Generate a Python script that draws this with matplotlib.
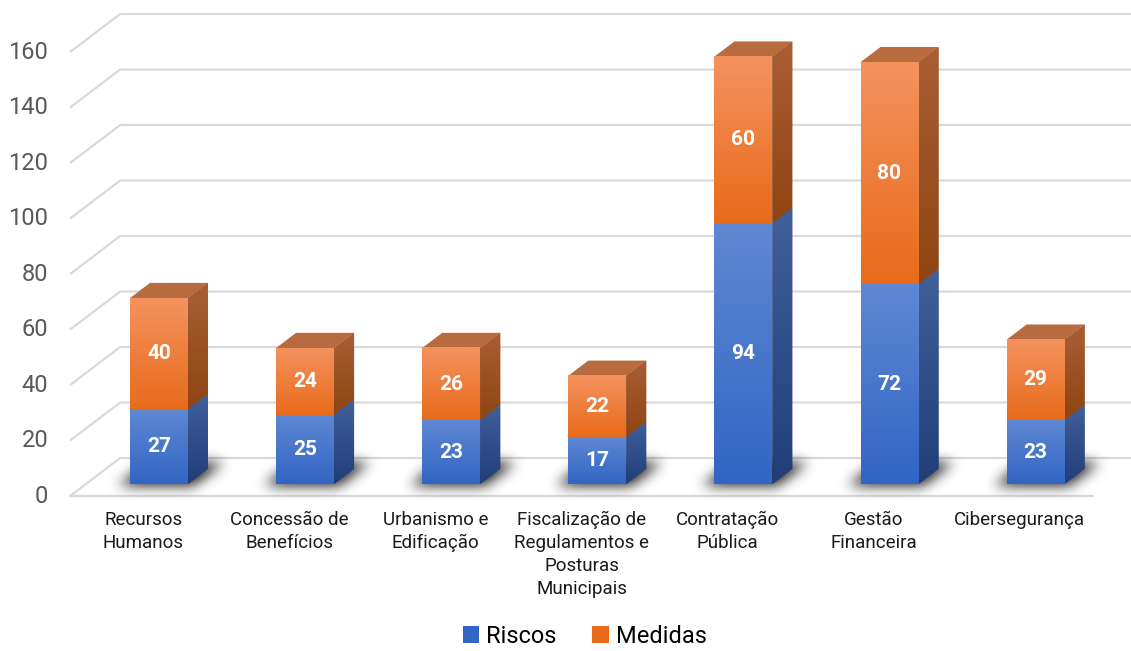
import numpy as np
import matplotlib.pyplot as plt
from matplotlib.patches import Polygon, Patch

plt.rcParams['font.family'] = ['Roboto', 'DejaVu Sans']

# data
categories = ['Recursos\nHumanos', 'Concessão de\nBenefícios', 'Urbanismo e\nEdificação',
              'Fiscalização de\nRegulamentos e\nPosturas\nMunicipais', 'Contratação\nPública',
              'Gestão\nFinanceira', 'Cibersegurança']
riscos = [27, 25, 23, 17, 94, 72, 23]
medidas = [40, 24, 26, 22, 60, 80, 29]
y_ticks = [0, 20, 40, 60, 80, 100, 120, 140, 160]
series_names = ['Riscos', 'Medidas']

# styles: (front top, front bottom, side top, side bottom, top face)
BLUE = ('#5f88d3', '#3265c4', '#40609a', '#213e79', '#4a6fb3')
ORANGE = ('#f4925e', '#e86b1b', '#aa5e36', '#8e4412', '#b96b40')
GRID = '#d9d9d9'

# layout (pixels -> data units)
W, H = 1131, 651
PX_X = 146.1      # px per category
PX_Y = 2.775      # px per value unit
X0_PX = 159       # front-face centre of first bar
BASE_PX = 484     # bar base on the bar plane
FLOOR_DX = 50 / PX_X
FLOOR_DY = 38 / PX_Y
D_BAR = 15.8 / 50
BAR_DEPTH = 0.4
HALF_W = 29 / PX_X


def proj(x, v, d):
    # point at depth d (0 = front wall, 1 = back wall) -> data coords on bar plane
    return x + (d - D_BAR) * FLOOR_DX, v + (d - D_BAR) * FLOOR_DY


def gradient(c_top, c_bot, n=64):
    a = np.array(plt.matplotlib.colors.to_rgb(c_bot))
    b = np.array(plt.matplotlib.colors.to_rgb(c_top))
    t = np.linspace(0, 1, n)[:, None]
    return (a + (b - a) * t)[:, None, :]


def blur(a, sigma):
    r = int(3 * sigma)
    k = np.exp(-np.arange(-r, r + 1) ** 2 / (2 * sigma ** 2))
    k /= k.sum()
    a = np.apply_along_axis(lambda row: np.convolve(row, k, mode='same'), 1, a)
    return np.apply_along_axis(lambda col: np.convolve(col, k, mode='same'), 0, a)


def floor_shadow(xl, xr):
    # blurred footprint of a bar on the floor, as RGBA image + extent
    ex = [xl - 0.35, xr + 0.45, -9.0, 14.0]
    nx = int((ex[1] - ex[0]) * PX_X)
    ny = int((ex[3] - ex[2]) * PX_Y)
    gx, gy = np.meshgrid(np.linspace(ex[0], ex[1], nx), np.linspace(ex[2], ex[3], ny))
    d = D_BAR + gy / FLOOR_DY
    xb = gx - (d - D_BAR) * FLOOR_DX
    core = ((xb > xl - 0.07) & (xb < xr + 0.05) & (d > 0.28) & (d < 0.9)).astype(float)
    alpha = np.clip(blur(core, 6.5) * 0.9, 0, 1)
    img = np.zeros((ny, nx, 4))
    img[..., 3] = alpha
    return img, ex


fig = plt.figure(figsize=(W / 100, H / 100), dpi=100)
ax = fig.add_axes([0, 0, 1, 1])
ax.axis('off')

# walls / gridlines
for v in y_ticks:
    pts = np.array([proj(-0.5, v, 0), proj(-0.5, v, 1), proj(7.5, v, 1)])
    ax.plot(pts[:, 0], pts[:, 1], color=GRID, lw=1.6, zorder=1, solid_capstyle='butt')
    ax.annotate(str(v), xy=proj(-0.5, v, 0), xytext=(-22, 0), textcoords='offset pixels',
                ha='right', va='center', fontsize=17, color='#595959')
front = np.array([proj(-0.5, 0, 0), proj(6.5, 0, 0)])
ax.plot(front[:, 0], front[:, 1], color=GRID, lw=1.6, zorder=1)

# bars
for i, (r, m) in enumerate(zip(riscos, medidas)):
    xl, xr = i - HALF_W, i + HALF_W

    img, ex = floor_shadow(xl, xr)
    ax.imshow(img, extent=ex, origin='lower', aspect='auto', interpolation='bilinear', zorder=2)

    segs = [(0, r, BLUE), (r, r + m, ORANGE)]
    for j, (v0, v1, col) in enumerate(segs):
        # front face
        ax.imshow(gradient(col[0], col[1]), extent=[xl, xr, v0, v1], origin='lower',
                  aspect='auto', interpolation='bilinear', zorder=4)
        # side face
        side = [proj(xr, v0, D_BAR), proj(xr, v1, D_BAR),
                proj(xr, v1, D_BAR + BAR_DEPTH), proj(xr, v0, D_BAR + BAR_DEPTH)]
        sp = Polygon(side, closed=True, facecolor=col[3], edgecolor='none', zorder=3)
        ax.add_patch(sp)
        sx = [p[0] for p in side]
        sy = [p[1] for p in side]
        im = ax.imshow(gradient(col[2], col[3]), extent=[min(sx), max(sx), min(sy), max(sy)],
                       origin='lower', aspect='auto', interpolation='bilinear', zorder=3.5)
        im.set_clip_path(sp)
        # top face
        if j == len(segs) - 1:
            top = [proj(xl, v1, D_BAR), proj(xr, v1, D_BAR),
                   proj(xr, v1, D_BAR + BAR_DEPTH), proj(xl, v1, D_BAR + BAR_DEPTH)]
            ax.add_patch(Polygon(top, closed=True, facecolor=col[4], edgecolor='none', zorder=3.6))
        ax.text(i, (v0 + v1) / 2, str(v1 - v0), ha='center', va='center', color='white',
                fontsize=15, fontweight='bold', zorder=6)

    ax.annotate(categories[i], xy=proj(i, 0, 0), xytext=(0, -15), textcoords='offset pixels',
                ha='center', va='top', fontsize=13.5, color='#1a1a1a', linespacing=1.35)

ax.set_xlim(-X0_PX / PX_X, (W - X0_PX) / PX_X)
ax.set_ylim((BASE_PX - H) / PX_Y, BASE_PX / PX_Y)

handles = [Patch(facecolor=BLUE[1]), Patch(facecolor=ORANGE[1])]
fig.legend(handles, series_names, loc='lower center', bbox_to_anchor=(0.517, -0.028), ncol=2,
           frameon=False, fontsize=17, handlelength=0.7, handleheight=0.7, handletextpad=0.3,
           columnspacing=1.5)

fig.savefig('out.png', dpi=100)
